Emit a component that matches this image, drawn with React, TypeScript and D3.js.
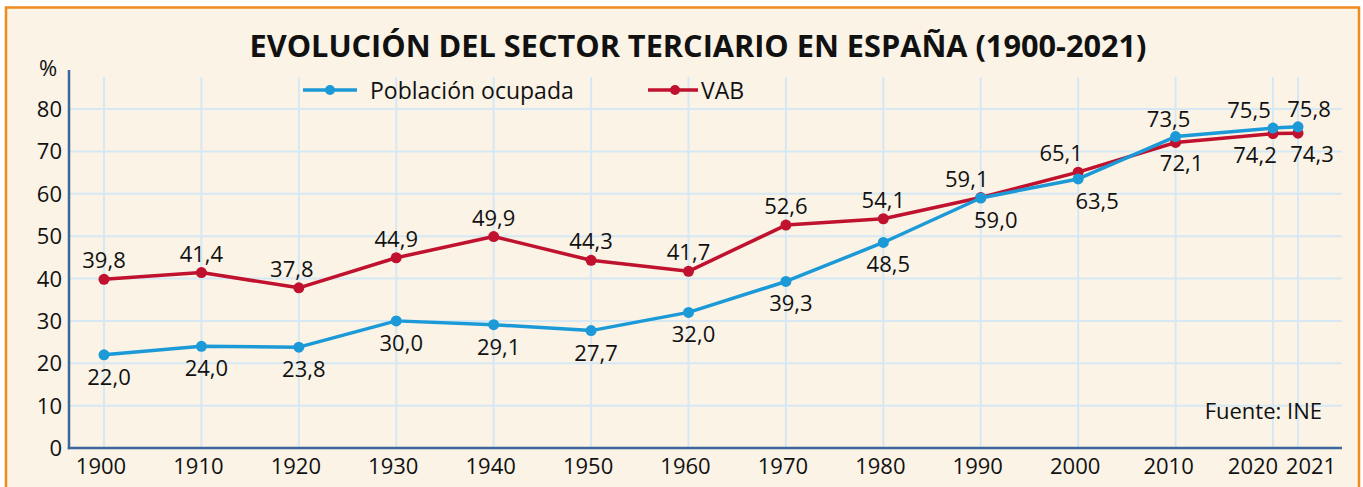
import React from "react";
import * as d3 from "d3";

const years = [1900, 1910, 1920, 1930, 1940, 1950, 1960, 1970, 1980, 1990, 2000, 2010, 2020, 2021];
const poblacion = [22.0, 24.0, 23.8, 30.0, 29.1, 27.7, 32.0, 39.3, 48.5, 59.0, 63.5, 73.5, 75.5, 75.8];
const vab = [39.8, 41.4, 37.8, 44.9, 49.9, 44.3, 41.7, 52.6, 54.1, 59.1, 65.1, 72.1, 74.2, 74.3];
const yTicks = [0, 10, 20, 30, 40, 50, 60, 70, 80];
const seriesNames = ["Población ocupada", "VAB"];
const title = "EVOLUCIÓN DEL SECTOR TERCIARIO EN ESPAÑA (1900-2021)";
const source = "Fuente: INE";

// label horizontal nudges (style only)
const redNudge: Record<number, number> = { 1920: -7, 1990: -14, 2000: -17, 2010: 6, 2020: -18, 2021: 14 };
const blueNudge: Record<number, number> = { 1990: 15, 2000: 19, 2010: -7, 2020: -24, 2021: 11 };
const xTickNudge: Record<number, number> = { 2010: -4, 2020: -17, 2021: 16 };

const W = 1363;
const H = 487;
const BLUE = "#1b9ad7";
const RED = "#c0122e";
const GRID = "#d6e8f4";
const AXIS = "#3b679c";
const BG = "#faf3e6";
const TXT = "#111111";
const FONT = "'Open Sans', 'Noto Sans', sans-serif";
const FS = 22;

const fmt = (v: number) => v.toFixed(1).replace(".", ",");

export default function App() {
  const x = d3.scaleLinear().domain([1900, 2020, 2021]).range([104, 1273, 1298]);
  const y = d3.scaleLinear().domain([0, 80]).range([448, 109]);
  const left = 69;
  const right = 1342;

  const line = d3
    .line<number>()
    .x((_, i) => x(years[i]))
    .y((d) => y(d));

  const labels: React.ReactNode[] = [];
  years.forEach((yr, i) => {
    const b = poblacion[i];
    const r = vab[i];
    const blueAbove = b > r;
    const bdx = blueNudge[yr] ?? (blueAbove ? 0 : 5);
    const rdx = redNudge[yr] ?? (blueAbove ? 5 : 0);
    labels.push(
      <text
        key={"b" + yr}
        x={x(yr) + bdx}
        y={y(b) + (blueAbove ? -10 : 30)}
        textAnchor="middle"
        fontSize={FS}
        fill={TXT}
        fontFamily={FONT}
      >
        {fmt(b)}
      </text>
    );
    labels.push(
      <text
        key={"r" + yr}
        x={x(yr) + rdx}
        y={y(r) + (blueAbove ? 29 : -11)}
        textAnchor="middle"
        fontSize={FS}
        fill={TXT}
        fontFamily={FONT}
      >
        {fmt(r)}
      </text>
    );
  });

  return (
    <div style={{ position: "absolute", left: 0, top: 0 }}>
      <svg width={W} height={H} style={{ display: "block", background: "#fff" }}>
        <rect x={6} y={7.5} width={1353} height={H + 10} fill={BG} stroke="#ef8a1e" strokeWidth={2.5} />

        {/* title */}
        <text
          x={698}
          y={57}
          textAnchor="middle"
          fontSize={31}
          fontWeight={700}
          fill={TXT}
          fontFamily={FONT}
          textLength={897}
          lengthAdjust="spacingAndGlyphs"
        >
          {title}
        </text>

        {/* grid */}
        {yTicks.filter((t) => t > 0).map((t) => (
          <line key={"gy" + t} x1={left} x2={right} y1={y(t)} y2={y(t)} stroke={GRID} strokeWidth={2} />
        ))}
        {years.map((yr) => (
          <line key={"gx" + yr} x1={x(yr)} x2={x(yr)} y1={77} y2={y(0)} stroke={GRID} strokeWidth={2} />
        ))}

        {/* axes */}
        <line x1={left} x2={left} y1={70} y2={y(0) + 1.2} stroke={AXIS} strokeWidth={2.5} />
        <line x1={left - 1.2} x2={right} y1={y(0)} y2={y(0)} stroke={AXIS} strokeWidth={2.5} />

        {yTicks.map((t) => (
          <text key={"yt" + t} x={62} y={y(t) + 8} textAnchor="end" fontSize={FS} fill={TXT} fontFamily={FONT}>
            {t}
          </text>
        ))}
        <text x={48} y={76} textAnchor="middle" fontSize={FS} fill={TXT} fontFamily={FONT}>
          %
        </text>
        {years.map((yr) => (
          <text
            key={"xt" + yr}
            x={x(yr) - 3 + (xTickNudge[yr] ?? 0)}
            y={474}
            textAnchor="middle"
            fontSize={FS}
            fill={TXT}
            fontFamily={FONT}
          >
            {yr}
          </text>
        ))}

        {/* legend */}
        <line x1={303} x2={357} y1={90} y2={90} stroke={BLUE} strokeWidth={3.5} />
        <circle cx={330} cy={90} r={5} fill={BLUE} />
        <text x={370} y={99} fontSize={23} fill={TXT} fontFamily={FONT}>
          {seriesNames[0]}
        </text>
        <line x1={648} x2={698} y1={90} y2={90} stroke={RED} strokeWidth={3.5} />
        <circle cx={675} cy={90} r={5} fill={RED} />
        <text x={701} y={99} fontSize={23} fill={TXT} fontFamily={FONT}>
          {seriesNames[1]}
        </text>

        {/* series */}
        <path d={line(vab) || ""} fill="none" stroke={RED} strokeWidth={3.5} strokeLinejoin="round" />
        {vab.map((v, i) => (
          <circle key={"rc" + i} cx={x(years[i])} cy={y(v)} r={5.5} fill={RED} />
        ))}
        <path d={line(poblacion) || ""} fill="none" stroke={BLUE} strokeWidth={3.5} strokeLinejoin="round" />
        {poblacion.map((v, i) => (
          <circle key={"bc" + i} cx={x(years[i])} cy={y(v)} r={5.5} fill={BLUE} />
        ))}

        {labels}

        <text x={1322} y={419} textAnchor="end" fontSize={FS} fill={TXT} fontFamily={FONT}>
          {source}
        </text>
      </svg>
    </div>
  );
}
